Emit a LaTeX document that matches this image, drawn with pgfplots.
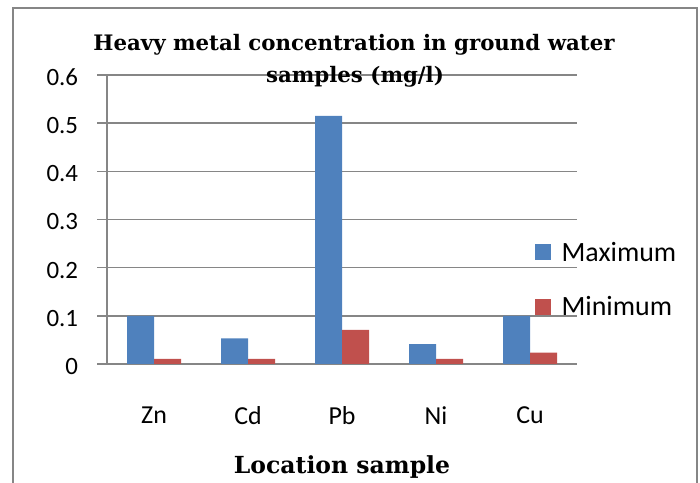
\documentclass[border=0pt]{standalone}
\usepackage{pgfplots}
\pgfplotsset{compat=1.18}
\usepackage{fontspec}
\setmainfont{Carlito}
\newfontfamily\titlefont{DejaVu Serif}

\definecolor{exblue}{HTML}{4F81BD}
\definecolor{exred}{HTML}{C0504D}
\definecolor{gridgray}{HTML}{868686}

\begin{document}
\begin{tikzpicture}[x=1bp,y=1bp]
\useasboundingbox (0,0) rectangle (700,483);
\draw[gridgray, line width=1.6bp] (13,-20) rectangle (697,475);

\begin{axis}[
    at={(107bp,119bp)}, anchor=south west,
    scale only axis,
    width=470bp, height=289bp,
    ybar=0pt, bar width=27bp,
    xmin=-0.5, xmax=4.5,
    ymin=0, ymax=0.6,
    xtick=data,
    xticklabels={Zn,Cd,Pb,Ni,Cu},
    ytick={0,0.1,0.2,0.3,0.4,0.5,0.6},
    axis lines=left,
    axis line style={-, gridgray, line width=1.5bp},
    x tick style={draw=none},
    y tick style={gridgray, line width=1.5bp},
    tick align=outside,
    major tick length=10bp,
    ymajorgrids=true,
    grid style={gridgray, line width=1.5bp},
    /pgf/number format/assume math mode=true,
    yticklabel style={font=\fontsize{25}{25}\selectfont, inner sep=0pt, anchor=east, xshift=-18.7bp, yshift=-2.5bp},
    xticklabel style={font=\fontsize{26}{26}\selectfont, inner sep=0pt, anchor=center, yshift=-41.5bp},
    legend style={at={(axis description cs:0.903,0.292)}, anchor=west,
        draw=none, fill=none, font=\fontsize{28}{28}\selectfont,
        nodes={inner sep=0pt}, row sep=34bp},
    legend cell align=left,
    legend image code/.code={\fill[#1] (0bp,-8bp) rectangle (16bp,8bp); \path (27bp,0bp);},
]
\addplot[fill=exblue, draw=none] coordinates {(0,0.1) (1,0.053) (2,0.515) (3,0.041) (4,0.1)};
\addplot[fill=exred, draw=none] coordinates {(0,0.0104) (1,0.0104) (2,0.0706) (3,0.0104) (4,0.0235)};
\legend{Maximum,Minimum}
\end{axis}

\node[anchor=base, font=\titlefont\bfseries\fontsize{21.4}{21.4}\selectfont, inner sep=0pt] at (354,432) {Heavy metal concentration in ground water};
\node[anchor=base, font=\titlefont\bfseries\fontsize{21.4}{21.4}\selectfont, inner sep=0pt] at (355,400) {samples (mg/l)};
\node[anchor=base, font=\titlefont\bfseries\fontsize{23.6}{23.6}\selectfont, inner sep=0pt] at (342,9) {Location sample};
\end{tikzpicture}
\end{document}
